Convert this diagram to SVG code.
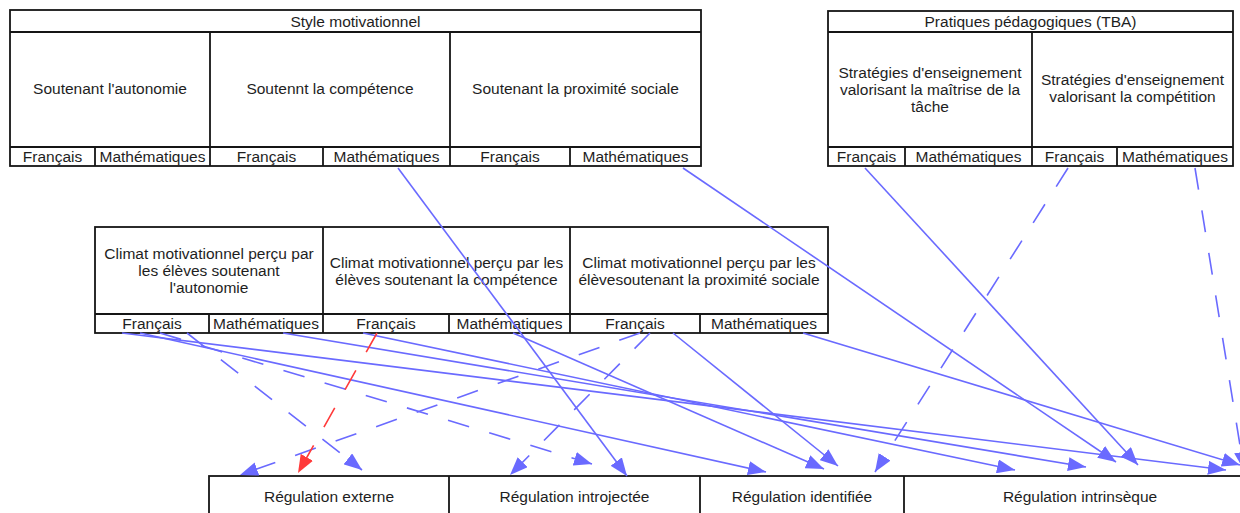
<svg xmlns="http://www.w3.org/2000/svg" width="1240" height="513" viewBox="0 0 1240 513">
<style>
.box{fill:#fff;stroke:#151515;stroke-width:1.8}
.ln{stroke:#151515;stroke-width:1.8;fill:none}
.t{font-family:"Liberation Sans",Arial,sans-serif;font-size:15.5px;fill:#1e1e1e;text-anchor:middle}
.c{stroke:#6a6aff;stroke-width:1.6;fill:none}
.d{stroke-dasharray:22 21}
.r{stroke:#ff3a3a;stroke-width:1.6;fill:none;stroke-dasharray:22 21}
</style>
<defs>
<marker id="ab" markerUnits="userSpaceOnUse" markerWidth="18" markerHeight="14" refX="18" refY="7" orient="auto"><path d="M0,0 L18,7 L0,14 z" fill="#6a6aff"/></marker>
<marker id="ar" markerUnits="userSpaceOnUse" markerWidth="18" markerHeight="14" refX="18" refY="7" orient="auto"><path d="M0,0 L18,7 L0,14 z" fill="#ff3a3a"/></marker>
</defs>
<rect width="1240" height="513" fill="#fff"/>

<g id="style-motivationnel">
<rect class="box" x="10" y="10" width="691" height="156"/>
<line class="ln" x1="10" y1="32" x2="701" y2="32"/>
<line class="ln" x1="10" y1="147" x2="701" y2="147"/>
<text class="t" x="355.5" y="26.5">Style motivationnel</text>
<g id="sm-autonomie"><line class="ln" x1="210" y1="32" x2="210" y2="166"/><text class="t" x="110" y="94">Soutenant l'autonomie</text></g>
<g id="sm-competence"><line class="ln" x1="450" y1="32" x2="450" y2="166"/><text class="t" x="330" y="94">Soutennt la compétence</text></g>
<g id="sm-proximite"><text class="t" x="575.5" y="94">Soutenant la proximité sociale</text></g>
<g id="sm-auto-fr"><text class="t" x="52.5" y="162">Français</text></g>
<g id="sm-auto-ma"><line class="ln" x1="95" y1="147" x2="95" y2="166"/><text class="t" x="152.5" y="162">Mathématiques</text></g>
<g id="sm-comp-fr"><text class="t" x="266.5" y="162">Français</text></g>
<g id="sm-comp-ma"><line class="ln" x1="323" y1="147" x2="323" y2="166"/><text class="t" x="386.5" y="162">Mathématiques</text></g>
<g id="sm-prox-fr"><text class="t" x="510" y="162">Français</text></g>
<g id="sm-prox-ma"><line class="ln" x1="570" y1="147" x2="570" y2="166"/><text class="t" x="635.5" y="162">Mathématiques</text></g>
</g>

<g id="pratiques-pedagogiques">
<rect class="box" x="828" y="11" width="405" height="155"/>
<line class="ln" x1="828" y1="32" x2="1233" y2="32"/>
<line class="ln" x1="828" y1="147" x2="1233" y2="147"/>
<text class="t" x="1030.5" y="26.5">Pratiques pédagogiques (TBA)</text>
<g id="pp-maitrise"><text class="t" x="930" y="78">Stratégies d'enseignement</text><text class="t" x="930" y="95">valorisant la maîtrise de la</text><text class="t" x="930" y="112">tâche</text></g>
<g id="pp-competition"><line class="ln" x1="1032" y1="32" x2="1032" y2="166"/><text class="t" x="1132.5" y="85">Stratégies d'enseignement</text><text class="t" x="1132.5" y="102">valorisant la compétition</text></g>
<g id="pp-mait-fr"><text class="t" x="866.5" y="162">Français</text></g>
<g id="pp-mait-ma"><line class="ln" x1="905" y1="147" x2="905" y2="166"/><text class="t" x="968.5" y="162">Mathématiques</text></g>
<g id="pp-comp-fr"><text class="t" x="1074.5" y="162">Français</text></g>
<g id="pp-comp-ma"><line class="ln" x1="1117" y1="147" x2="1117" y2="166"/><text class="t" x="1175" y="162">Mathématiques</text></g>
</g>

<g id="climat-motivationnel">
<rect class="box" x="95" y="227" width="733" height="106"/>
<line class="ln" x1="95" y1="314" x2="828" y2="314"/>
<g id="cm-autonomie"><text class="t" x="209" y="259">Climat motivationnel perçu par</text><text class="t" x="209" y="276">les élèves soutenant</text><text class="t" x="209" y="293">l'autonomie</text></g>
<g id="cm-competence"><line class="ln" x1="323" y1="227" x2="323" y2="333"/><text class="t" x="446.5" y="267.5">Climat motivationnel perçu par les</text><text class="t" x="446.5" y="284.5">élèves soutenant la compétence</text></g>
<g id="cm-proximite"><line class="ln" x1="570" y1="227" x2="570" y2="333"/><text class="t" x="699" y="267.5">Climat motivationnel perçu par les</text><text class="t" x="699" y="284.5">élèvesoutenant la proximité sociale</text></g>
<g id="cm-auto-fr"><text class="t" x="152" y="329">Français</text></g>
<g id="cm-auto-ma"><line class="ln" x1="209" y1="314" x2="209" y2="333"/><text class="t" x="266" y="329">Mathématiques</text></g>
<g id="cm-comp-fr"><text class="t" x="386" y="329">Français</text></g>
<g id="cm-comp-ma"><line class="ln" x1="449" y1="314" x2="449" y2="333"/><text class="t" x="509.5" y="329">Mathématiques</text></g>
<g id="cm-prox-fr"><text class="t" x="635" y="329">Français</text></g>
<g id="cm-prox-ma"><line class="ln" x1="700" y1="314" x2="700" y2="333"/><text class="t" x="764" y="329">Mathématiques</text></g>
</g>

<g id="regulations">
<rect class="box" x="209" y="476" width="1047" height="60"/>
<g id="reg-externe"><text class="t" x="329" y="501.5">Régulation externe</text></g>
<g id="reg-introjectee"><line class="ln" x1="449" y1="476" x2="449" y2="513"/><text class="t" x="574.5" y="501.5">Régulation introjectée</text></g>
<g id="reg-identifiee"><line class="ln" x1="700" y1="476" x2="700" y2="513"/><text class="t" x="802" y="501.5">Régulation identifiée</text></g>
<g id="reg-intrinseque"><line class="ln" x1="904" y1="476" x2="904" y2="513"/><text class="t" x="1080" y="501.5">Régulation intrinsèque</text></g>
</g>

<g id="connectors">
<line class="c" x1="398" y1="168" x2="627" y2="476" marker-end="url(#ab)"/>
<line class="c" x1="683" y1="168" x2="1116" y2="462" marker-end="url(#ab)"/>
<line class="c" x1="865" y1="168" x2="1138" y2="465" marker-end="url(#ab)"/>
<line class="c d" x1="1068" y1="168" x2="875" y2="472" marker-end="url(#ab)"/>
<line class="c d" x1="1195" y1="168" x2="1244" y2="470" marker-end="url(#ab)"/>
<line class="c" x1="122" y1="333" x2="1226" y2="470" marker-end="url(#ab)"/>
<line class="c" x1="140" y1="333" x2="766" y2="472" marker-end="url(#ab)"/>
<line class="c" x1="283" y1="333" x2="1086" y2="467" marker-end="url(#ab)"/>
<line class="c" x1="363" y1="333" x2="1015" y2="470" marker-end="url(#ab)"/>
<line class="c" x1="513" y1="333" x2="824" y2="469" marker-end="url(#ab)"/>
<line class="c" x1="673" y1="333" x2="838" y2="466" marker-end="url(#ab)"/>
<line class="c" x1="803" y1="333" x2="1240" y2="465" marker-end="url(#ab)"/>
<line class="c d" x1="187" y1="333" x2="362" y2="470" marker-end="url(#ab)"/>
<line class="c d" x1="160" y1="333" x2="592" y2="464" marker-end="url(#ab)"/>
<line class="c d" x1="640" y1="333" x2="240" y2="475" marker-end="url(#ab)"/>
<line class="c d" x1="650" y1="333" x2="510" y2="475" marker-end="url(#ab)"/>
<line class="r" x1="377" y1="333" x2="298" y2="473" marker-end="url(#ar)"/>
</g>
</svg>
